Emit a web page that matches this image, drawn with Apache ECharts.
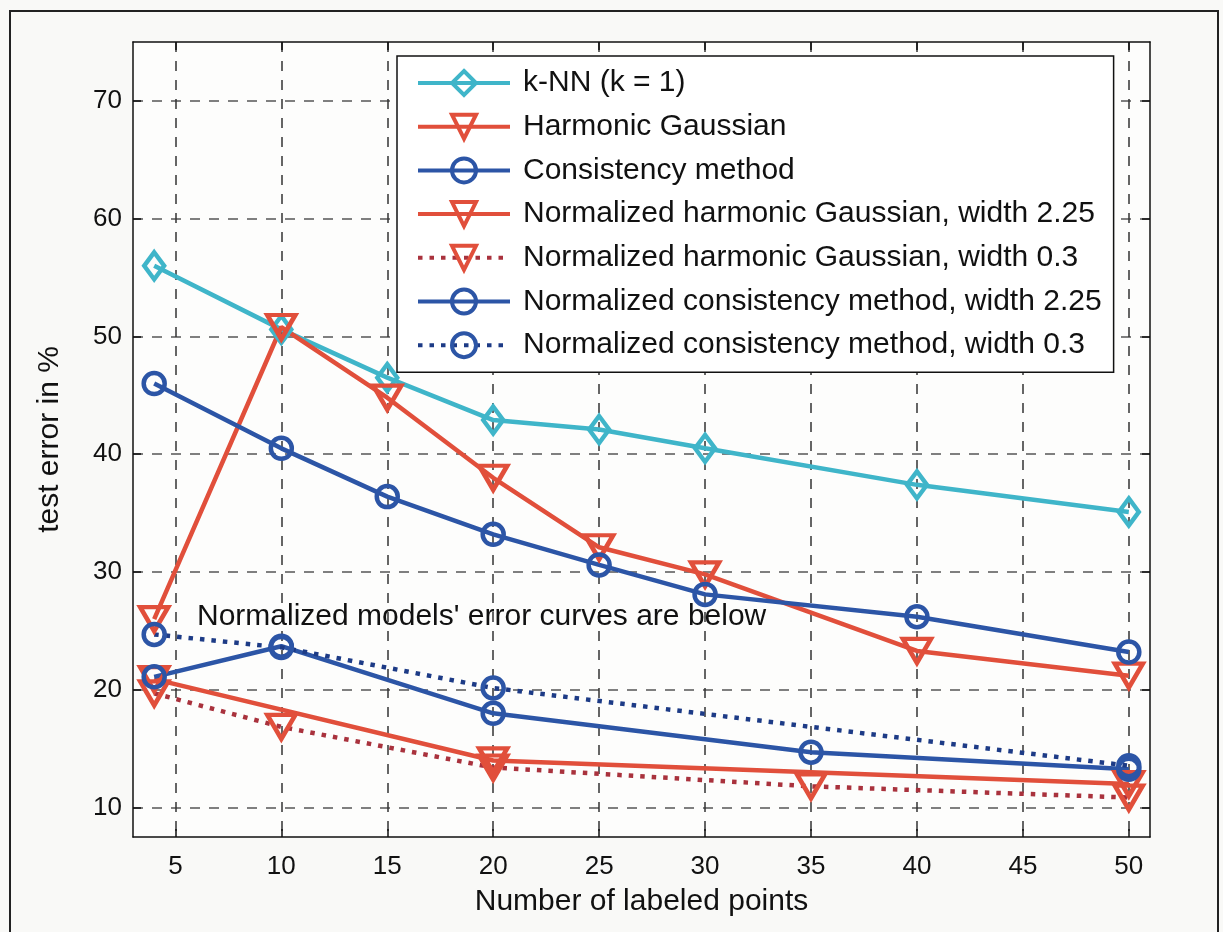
<!DOCTYPE html>
<html>
<head>
    <meta charset="utf-8">
    <title>test error vs labeled points</title>
    <script src="https://cdn.jsdelivr.net/npm/echarts@6/dist/echarts.min.js"></script>
    <style>
        html, body { margin: 0; padding: 0; background: #f9f9f7; }
        #chart { width: 1223px; height: 932px; }
    </style>
</head>
<body>
<div id="chart"></div>
<script>
    // values
    var xTicks = [5, 10, 15, 20, 25, 30, 35, 40, 45, 50];
    var yTicks = [10, 20, 30, 40, 50, 60, 70];

    var xMain = [4, 10, 15, 20, 25, 30, 40, 50];
    var knn = [56.0, 50.6, 46.5, 42.9, 42.1, 40.5, 37.4, 35.1];
    var harmonic = [26.0, 50.8, 44.8, 38.0, 32.1, 29.8, 23.3, 21.2];
    var consistency = [46.0, 40.5, 36.4, 33.2, 30.6, 28.1, 26.2, 23.2];

    var xNhg225 = [4, 20, 50];
    var nhg225 = [20.9, 14.0, 12.0];
    var xNhg03 = [4, 10, 20, 35, 50];
    var nhg03 = [19.7, 16.85, 13.4, 11.8, 10.85];
    var xNcm225 = [4, 10, 20, 35, 50];
    var ncm225 = [21.1, 23.7, 18.0, 14.7, 13.25];
    var xNcm03 = [4, 10, 20, 50];
    var ncm03 = [24.7, 23.6, 20.15, 13.55];

    var names = [
        'k-NN (k = 1)',
        'Harmonic Gaussian',
        'Consistency method',
        'Normalized harmonic Gaussian, width 2.25',
        'Normalized harmonic Gaussian, width 0.3',
        'Normalized consistency method, width 2.25',
        'Normalized consistency method, width 0.3'
    ];

    var cyan = '#3fb5c9', red = '#e14f3b', blue = '#2c55a6';
    var darkRed = '#a9323d', navy = '#1d3b86';
    var font = 'Liberation Sans, Arial, sans-serif';

    function pairs(xs, ys) {
        return xs.map(function (x, i) { return [x, ys[i]]; });
    }

    function line(name, xs, ys, lineColor, markColor, symbol, size, dotted) {
        return {
            name: name,
            type: 'line',
            data: pairs(xs, ys),
            symbol: symbol,
            symbolSize: size,
            symbolRotate: symbol === 'triangle' ? 180 : 0,
            showAllSymbol: true,
            color: markColor,
            lineStyle: {
                color: lineColor,
                width: 4.5,
                type: dotted ? [4.5, 7] : 'solid'
            },
            itemStyle: {
                color: 'rgba(255,255,255,0)',
                borderColor: markColor,
                borderWidth: 4.5
            },
            emphasis: { disabled: true },
            animation: false
        };
    }

    var chart = echarts.init(document.getElementById('chart'));

    var option = {
        backgroundColor: '#f9f9f7',
        textStyle: { fontFamily: font },
        grid: { left: 133, right: 73, top: 42, bottom: 95, show: true, backgroundColor: '#fdfdfc', borderWidth: 0 },
        legend: {
            orient: 'vertical',
            left: 397,
            top: 56,
            padding: [12, 12, 12, 19],
            itemWidth: 92,
            itemHeight: 30,
            itemGap: 13.7,
            backgroundColor: '#ffffff',
            borderColor: '#111',
            borderWidth: 1.5,
            borderRadius: 0,
            lineStyle: { width: 4 },
            itemStyle: { borderWidth: 4 },
            textStyle: { fontSize: 30, lineHeight: 30, color: '#111', fontFamily: font, padding: [0, 0, 0, 8] },
            data: names
        },
        xAxis: [{
            type: 'value',
            min: 3,
            max: 51,
            name: 'Number of labeled points',
            nameLocation: 'middle',
            nameGap: 50,
            nameTextStyle: { fontSize: 30, color: '#111' },
            axisLine: { lineStyle: { color: '#111', width: 1.5 } },
            axisTick: { inside: true, length: 8, customValues: xTicks, lineStyle: { color: '#111', width: 1.5 } },
            axisLabel: { customValues: xTicks, fontSize: 26, color: '#111', margin: 17 },
            splitLine: { show: true, lineStyle: { color: '#333', width: 1.5, type: [10, 9] } }
        }, {
            type: 'value',
            position: 'top',
            min: 3,
            max: 51,
            axisLine: { lineStyle: { color: '#111', width: 1.5 } },
            axisTick: { inside: true, length: 8, customValues: xTicks, lineStyle: { color: '#111', width: 1.5 } },
            axisLabel: { show: false },
            splitLine: { show: false }
        }],
        yAxis: [{
            type: 'value',
            min: 7.5,
            max: 75,
            name: 'test error in %',
            nameLocation: 'middle',
            nameGap: 68,
            nameTextStyle: { fontSize: 30, color: '#111' },
            axisLine: { show: true, lineStyle: { color: '#111', width: 1.5 } },
            axisTick: { show: true, inside: true, length: 8, customValues: yTicks, lineStyle: { color: '#111', width: 1.5 } },
            axisLabel: { customValues: yTicks, fontSize: 26, color: '#111', margin: 11 },
            splitLine: { show: true, lineStyle: { color: '#555', width: 1.5, type: [10, 9] } }
        }, {
            type: 'value',
            position: 'right',
            min: 7.5,
            max: 75,
            axisLine: { show: true, lineStyle: { color: '#111', width: 1.5 } },
            axisTick: { show: true, inside: true, length: 8, customValues: yTicks, lineStyle: { color: '#111', width: 1.5 } },
            axisLabel: { show: false },
            splitLine: { show: false }
        }],
        graphic: [{
            type: 'rect',
            shape: { x: 10, y: 11, width: 1208, height: 1000 },
            style: { fill: 'none', stroke: '#222', lineWidth: 2 },
            silent: true
        }, {
            type: 'text',
            left: 197,
            top: 602,
            z: 10,
            style: { text: "Normalized models' error curves are below", fontSize: 30, fill: '#111', fontFamily: font },
            silent: true
        }],
        series: [
            line(names[0], xMain, knn, cyan, cyan, 'diamond', [20, 27], false),
            line(names[1], xMain, harmonic, red, red, 'triangle', [28, 24], false),
            line(names[2], xMain, consistency, blue, blue, 'circle', 21, false),
            line(names[3], xNhg225, nhg225, red, red, 'triangle', [28, 24], false),
            line(names[4], xNhg03, nhg03, darkRed, red, 'triangle', [28, 24], true),
            line(names[5], xNcm225, ncm225, blue, blue, 'circle', 21, false),
            line(names[6], xNcm03, ncm03, navy, blue, 'circle', 21, true)
        ]
    };

    chart.setOption(option);
</script>
</body>
</html>
